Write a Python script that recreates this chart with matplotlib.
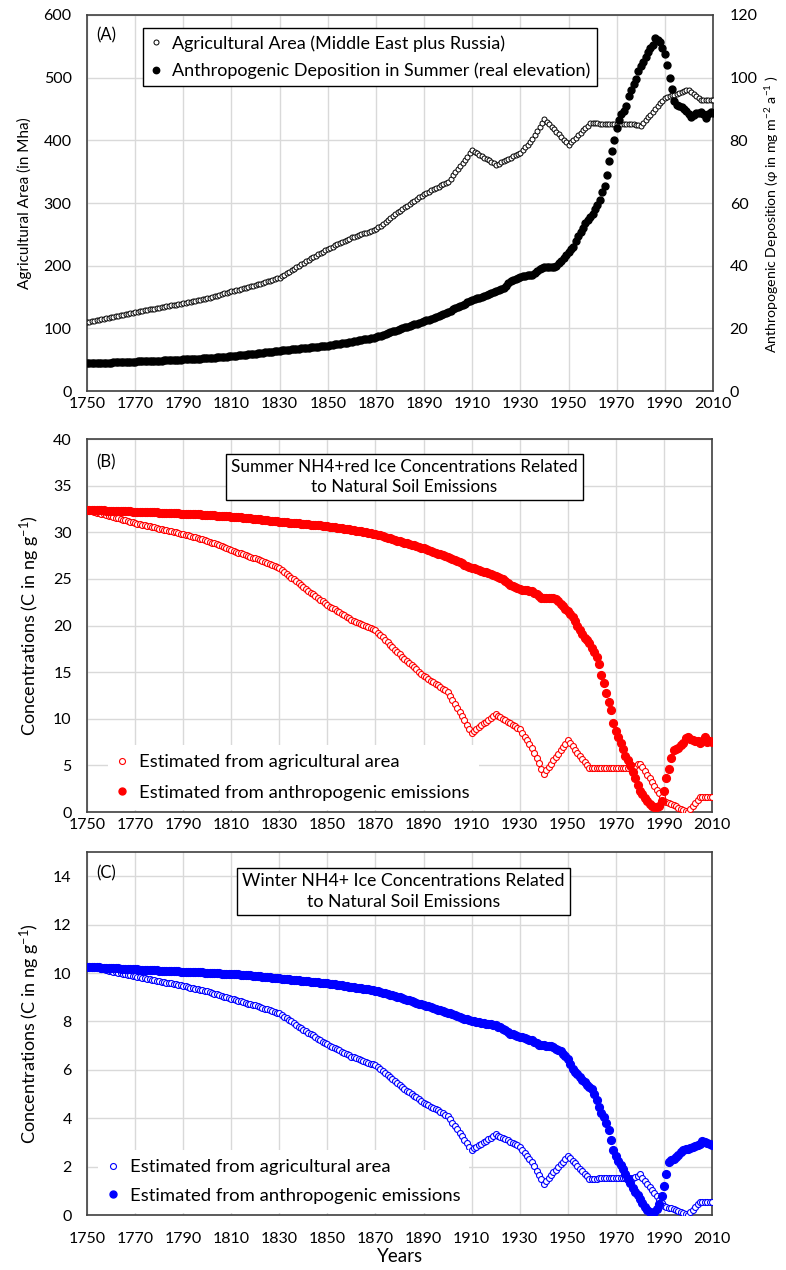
import matplotlib
matplotlib.use("Agg")
import matplotlib.pyplot as plt
from matplotlib.lines import Line2D

plt.rcParams['font.family'] = ['Lato', 'DejaVu Sans']
plt.rcParams['mathtext.fontset'] = 'custom'
plt.rcParams['mathtext.rm'] = 'Lato'
plt.rcParams['mathtext.it'] = 'Lato:italic'
plt.rcParams['mathtext.bf'] = 'Lato:bold'

years = list(range(1750, 2011))

# Panel A: agricultural area (Mha), Middle East plus Russia
area = [
    110, 110.8, 111.6, 112.4, 113.2, 114, 114.8, 115.6, 116.4, 117.2,
    118, 118.8, 119.6, 120.4, 121.2, 122, 122.8, 123.6, 124.4, 125.2,
    126, 126.7, 127.4, 128.1, 128.8, 129.5, 130.2, 130.9, 131.6, 132.3,
    133, 133.7, 134.4, 135.1, 135.8, 136.5, 137.2, 137.9, 138.6, 139.3,
    140, 140.8, 141.6, 142.4, 143.2, 144, 144.8, 145.6, 146.4, 147.2,
    148, 149.1, 150.2, 151.3, 152.4, 153.5, 154.6, 155.7, 156.8, 157.9,
    159, 160, 161, 162, 163, 164, 165, 166, 167, 168,
    169, 170.2, 171.4, 172.6, 173.8, 175, 176.2, 177.4, 178.6, 179.8,
    181, 183.4, 185.8, 188.2, 190.6, 193, 195.4, 197.8, 200.2, 202.6,
    205, 207.2, 209.4, 211.6, 213.8, 216, 218.2, 220.4, 222.6, 224.8,
    227, 228.8, 230.6, 232.4, 234.2, 236, 237.8, 239.6, 241.4, 243.2,
    245, 246.3, 247.6, 248.9, 250.2, 251.5, 252.8, 254.1, 255.4, 256.7,
    258, 261, 264, 267, 270, 273, 276, 279, 282, 285,
    288, 290.6, 293.2, 295.8, 298.4, 301, 303.6, 306.2, 308.8, 311.4,
    314, 316, 318, 320, 322, 324, 326, 328, 330, 332,
    334, 339, 344, 349, 354, 359, 364, 369, 374, 379,
    384, 381.7, 379.4, 377.1, 374.8, 372.5, 370.2, 367.9, 365.6, 363.3,
    361, 362.9, 364.8, 366.7, 368.6, 370.5, 372.4, 374.3, 376.2, 378.1,
    380, 384.4, 388.8, 393.2, 397.6, 402, 408.4, 414.8, 421.2, 427.6,
    434, 429.9, 425.8, 421.7, 417.6, 413.5, 409.4, 405.3, 401.2, 397.1,
    393, 396.8, 400.6, 404.3, 408.1, 411.9, 415.7, 419.4, 423.2, 427,
    427, 427, 426.9, 426.8, 426.8, 426.7, 426.6, 426.6, 426.5, 426.4,
    426.4, 426.3, 426.3, 426.2, 426.1, 426.1, 426, 426, 425, 424,
    423, 427.5, 432, 436.5, 441, 445.5, 450, 454.5, 459, 463.5,
    468, 469.2, 470.4, 471.6, 472.8, 474, 475.4, 476.8, 478.2, 479.6,
    481, 477.6, 474.2, 470.8, 467.4, 464, 464, 464, 464, 464,
    464,
]

# Panel A: anthropogenic deposition in summer (mg m-2 a-1)
deposition = [
    8.8, 8.83, 8.86, 8.89, 8.92, 8.95, 8.98, 9.01, 9.04, 9.07,
    9.1, 9.13, 9.16, 9.19, 9.22, 9.25, 9.28, 9.31, 9.34, 9.37,
    9.4, 9.43, 9.46, 9.49, 9.52, 9.55, 9.58, 9.61, 9.64, 9.67,
    9.7, 9.74, 9.78, 9.82, 9.86, 9.9, 9.94, 9.98, 10.02, 10.06,
    10.1, 10.14, 10.18, 10.22, 10.26, 10.3, 10.34, 10.38, 10.42, 10.46,
    10.5, 10.56, 10.62, 10.68, 10.74, 10.8, 10.86, 10.92, 10.98, 11.04,
    11.1, 11.18, 11.26, 11.34, 11.42, 11.5, 11.58, 11.66, 11.74, 11.82,
    11.9, 12.0, 12.1, 12.2, 12.3, 12.4, 12.5, 12.6, 12.7, 12.8,
    12.9, 12.98, 13.06, 13.14, 13.22, 13.3, 13.38, 13.46, 13.54, 13.62,
    13.7, 13.78, 13.86, 13.94, 14.02, 14.1, 14.18, 14.26, 14.34, 14.42,
    14.5, 14.62, 14.74, 14.86, 14.98, 15.1, 15.22, 15.34, 15.46, 15.58,
    15.7, 15.85, 16.0, 16.15, 16.3, 16.45, 16.6, 16.75, 16.9, 17.05,
    17.2, 17.46, 17.72, 17.98, 18.24, 18.5, 18.76, 19.02, 19.28, 19.54,
    19.8, 20.04, 20.28, 20.52, 20.76, 21.0, 21.24, 21.48, 21.72, 21.96,
    22.2, 22.51, 22.82, 23.13, 23.44, 23.75, 24.06, 24.37, 24.68, 24.99,
    25.3, 25.67, 26.04, 26.41, 26.78, 27.15, 27.52, 27.89, 28.26, 28.63,
    29.0, 29.28, 29.56, 29.84, 30.12, 30.4, 30.68, 30.96, 31.24, 31.52,
    31.8, 32.17, 32.53, 32.9, 33.67, 34.43, 35.2, 35.5, 35.8, 36.1,
    36.4, 36.7, 36.8, 36.9, 37.0, 37.1, 37.68, 38.25, 38.83, 39.4,
    39.47, 39.53, 39.6, 39.67, 39.73, 39.8, 40.7, 41.6, 42.5, 43.4,
    44.3, 45.2, 46.1, 47.8, 49.5, 50.83, 52.17, 53.5, 54.5, 55.5,
    56.5, 58, 59.5, 61, 63.5, 65.5, 69, 73.5, 76.5, 80,
    84, 86.5, 88.5, 89.5, 90.8, 94, 96, 98, 99.6, 102,
    103.8, 105, 106.5, 108.3, 109.5, 110.4, 112.8, 112, 111.3, 109.5,
    107.5, 104, 100, 96.5, 92.5, 91.2, 91, 90.5, 90, 89.4,
    88.5, 87.6, 88, 88.6, 88.8, 89.2, 88.5, 87, 88.5, 89,
    88.6,
]

# Panel B: summer concentrations (ng g-1)
summer_from_area = [
    32.4, 32.33, 32.26, 32.19, 32.12, 32.05, 31.98, 31.91, 31.84, 31.77,
    31.7, 31.63, 31.56, 31.49, 31.42, 31.35, 31.28, 31.21, 31.14, 31.07,
    31.0, 30.94, 30.88, 30.82, 30.76, 30.7, 30.64, 30.58, 30.52, 30.46,
    30.4, 30.34, 30.28, 30.22, 30.16, 30.1, 30.04, 29.98, 29.92, 29.86,
    29.8, 29.73, 29.66, 29.59, 29.52, 29.45, 29.38, 29.31, 29.24, 29.17,
    29.1, 29.0, 28.9, 28.8, 28.7, 28.6, 28.5, 28.4, 28.3, 28.2,
    28.1, 28.01, 27.92, 27.83, 27.74, 27.65, 27.56, 27.47, 27.38, 27.29,
    27.2, 27.1, 27.0, 26.9, 26.8, 26.7, 26.6, 26.5, 26.4, 26.3,
    26.2, 25.99, 25.78, 25.57, 25.36, 25.15, 24.94, 24.73, 24.52, 24.31,
    24.1, 23.91, 23.72, 23.53, 23.34, 23.15, 22.96, 22.77, 22.58, 22.39,
    22.2, 22.04, 21.88, 21.72, 21.56, 21.4, 21.24, 21.08, 20.92, 20.76,
    20.6, 20.49, 20.38, 20.27, 20.16, 20.05, 19.94, 19.83, 19.72, 19.61,
    19.5, 19.24, 18.98, 18.72, 18.46, 18.2, 17.94, 17.68, 17.42, 17.16,
    16.9, 16.67, 16.44, 16.21, 15.98, 15.75, 15.52, 15.29, 15.06, 14.83,
    14.6, 14.43, 14.26, 14.09, 13.92, 13.75, 13.58, 13.41, 13.24, 13.07,
    12.9, 12.46, 12.02, 11.58, 11.14, 10.7, 10.26, 9.82, 9.38, 8.94,
    8.5, 8.7, 8.9, 9.1, 9.3, 9.5, 9.7, 9.9, 10.1, 10.3,
    10.5, 10.34, 10.18, 10.02, 9.86, 9.7, 9.54, 9.38, 9.22, 9.06,
    8.9, 8.5, 8.1, 7.7, 7.3, 6.9, 6.34, 5.78, 5.22, 4.66,
    4.1, 4.46, 4.82, 5.18, 5.54, 5.9, 6.26, 6.62, 6.98, 7.34,
    7.7, 7.37, 7.03, 6.7, 6.37, 6.03, 5.7, 5.37, 5.03, 4.7,
    4.7, 4.7, 4.71, 4.71, 4.72, 4.72, 4.73, 4.73, 4.74, 4.74,
    4.75, 4.75, 4.76, 4.76, 4.77, 4.77, 4.78, 4.8, 4.95, 5.1,
    5.2, 4.8, 4.4, 4.0, 3.6, 3.2, 2.8, 2.4, 2.0, 1.6,
    1.2, 1.08, 0.96, 0.84, 0.72, 0.6, 0.48, 0.36, 0.24, 0.12,
    0.0, 0.33, 0.66, 0.99, 1.32, 1.65, 1.65, 1.65, 1.65, 1.65,
    1.65,
]

summer_from_emis = [
    32.4, 32.39, 32.38, 32.37, 32.36, 32.36, 32.35, 32.34, 32.33, 32.32,
    32.31, 32.3, 32.29, 32.28, 32.27, 32.26, 32.25, 32.24, 32.23, 32.22,
    32.21, 32.2, 32.19, 32.18, 32.17, 32.17, 32.16, 32.15, 32.14, 32.13,
    32.12, 32.11, 32.1, 32.08, 32.07, 32.06, 32.05, 32.04, 32.02, 32.01,
    32.0, 31.99, 31.98, 31.96, 31.95, 31.94, 31.93, 31.92, 31.9, 31.89,
    31.88, 31.86, 31.84, 31.82, 31.8, 31.79, 31.77, 31.75, 31.73, 31.71,
    31.69, 31.67, 31.64, 31.62, 31.59, 31.57, 31.55, 31.52, 31.5, 31.47,
    31.45, 31.42, 31.39, 31.36, 31.33, 31.3, 31.26, 31.23, 31.2, 31.17,
    31.14, 31.12, 31.09, 31.07, 31.04, 31.02, 31.0, 30.97, 30.95, 30.92,
    30.9, 30.88, 30.85, 30.83, 30.8, 30.78, 30.75, 30.73, 30.7, 30.68,
    30.65, 30.61, 30.58, 30.54, 30.5, 30.47, 30.43, 30.39, 30.35, 30.32,
    30.28, 30.23, 30.19, 30.14, 30.1, 30.05, 30.0, 29.96, 29.91, 29.87,
    29.82, 29.74, 29.66, 29.58, 29.5, 29.43, 29.35, 29.27, 29.19, 29.11,
    29.03, 28.96, 28.88, 28.81, 28.73, 28.66, 28.59, 28.51, 28.44, 28.36,
    28.29, 28.2, 28.1, 28.01, 27.91, 27.82, 27.72, 27.63, 27.53, 27.44,
    27.34, 27.23, 27.11, 27.0, 26.88, 26.77, 26.66, 26.54, 26.43, 26.31,
    26.2, 26.12, 26.03, 25.95, 25.86, 25.78, 25.69, 25.61, 25.52, 25.44,
    25.35, 25.23, 25.12, 25.0, 24.77, 24.53, 24.3, 24.21, 24.12, 24.03,
    23.94, 23.85, 23.82, 23.79, 23.75, 23.72, 23.54, 23.36, 23.18, 23.0,
    22.98, 22.96, 22.94, 22.92, 22.9, 22.88, 22.61, 22.34, 22.07, 21.79,
    21.52, 21.24, 20.96, 20.44, 19.92, 19.51, 19.11, 18.7, 18.4, 18.1,
    17.6, 17.2, 16.6, 15.9, 14.7, 13.8, 12.8, 11.8, 10.9, 9.6,
    8.7, 8.0, 7.4, 6.8, 6.0, 5.6, 5.0, 4.3, 3.6, 2.9,
    2.3, 1.9, 1.5, 1.2, 0.9, 0.65, 0.55, 0.55, 0.65, 1.2,
    2.3, 3.7, 4.6, 5.8, 6.6, 6.8, 6.9, 7.2, 7.4, 7.9,
    8.0, 7.8, 7.7, 7.6, 7.6, 7.4, 7.6, 8.1, 7.5, 7.6,
    7.5,
]

# Panel C: winter concentrations (ng g-1)
winter_from_area = [
    10.3, 10.28, 10.26, 10.23, 10.21, 10.19, 10.17, 10.15, 10.12, 10.1,
    10.08, 10.06, 10.04, 10.01, 9.99, 9.97, 9.95, 9.93, 9.9, 9.88,
    9.86, 9.84, 9.82, 9.8, 9.78, 9.76, 9.74, 9.72, 9.7, 9.68,
    9.66, 9.64, 9.62, 9.6, 9.58, 9.57, 9.55, 9.53, 9.51, 9.49,
    9.47, 9.45, 9.42, 9.4, 9.38, 9.36, 9.33, 9.31, 9.29, 9.26,
    9.24, 9.21, 9.18, 9.15, 9.12, 9.09, 9.06, 9.03, 9.0, 8.97,
    8.94, 8.91, 8.88, 8.86, 8.83, 8.8, 8.77, 8.74, 8.72, 8.69,
    8.66, 8.63, 8.59, 8.56, 8.53, 8.5, 8.46, 8.43, 8.4, 8.36,
    8.33, 8.26, 8.2, 8.13, 8.06, 8.0, 7.93, 7.86, 7.79, 7.73,
    7.66, 7.6, 7.54, 7.48, 7.42, 7.36, 7.29, 7.23, 7.17, 7.11,
    7.05, 7.0, 6.95, 6.9, 6.85, 6.8, 6.75, 6.7, 6.65, 6.6,
    6.55, 6.51, 6.48, 6.44, 6.41, 6.37, 6.33, 6.3, 6.26, 6.23,
    6.19, 6.11, 6.02, 5.94, 5.86, 5.78, 5.69, 5.61, 5.53, 5.44,
    5.36, 5.29, 5.22, 5.14, 5.07, 5.0, 4.93, 4.86, 4.78, 4.71,
    4.64, 4.59, 4.53, 4.48, 4.42, 4.37, 4.32, 4.26, 4.21, 4.15,
    4.1, 3.96, 3.82, 3.68, 3.54, 3.4, 3.25, 3.11, 2.97, 2.83,
    2.69, 2.75, 2.82, 2.88, 2.95, 3.01, 3.07, 3.14, 3.2, 3.27,
    3.33, 3.28, 3.23, 3.18, 3.13, 3.08, 3.03, 2.98, 2.93, 2.88,
    2.83, 2.7, 2.57, 2.45, 2.32, 2.19, 2.01, 1.83, 1.66, 1.48,
    1.3, 1.41, 1.53, 1.64, 1.76, 1.87, 1.98, 2.1, 2.21, 2.33,
    2.44, 2.34, 2.23, 2.13, 2.02, 1.92, 1.81, 1.71, 1.6, 1.5,
    1.5, 1.5, 1.5, 1.51, 1.51, 1.51, 1.51, 1.51, 1.52, 1.52,
    1.52, 1.52, 1.52, 1.52, 1.53, 1.53, 1.53, 1.53, 1.58, 1.63,
    1.68, 1.55, 1.42, 1.29, 1.16, 1.03, 0.9, 0.77, 0.64, 0.51,
    0.38, 0.35, 0.31, 0.27, 0.23, 0.19, 0.15, 0.11, 0.08, 0.04,
    0.0, 0.11, 0.22, 0.33, 0.44, 0.55, 0.55, 0.55, 0.55, 0.55,
    0.55,
]

winter_from_emis = [
    10.26, 10.25, 10.25, 10.24, 10.24, 10.23, 10.22, 10.22, 10.21, 10.21,
    10.2, 10.2, 10.19, 10.19, 10.18, 10.18, 10.17, 10.17, 10.16, 10.16,
    10.15, 10.15, 10.14, 10.14, 10.13, 10.13, 10.12, 10.12, 10.11, 10.11,
    10.1, 10.1, 10.09, 10.09, 10.08, 10.08, 10.08, 10.07, 10.07, 10.06,
    10.06, 10.06, 10.05, 10.05, 10.04, 10.04, 10.04, 10.03, 10.03, 10.02,
    10.02, 10.01, 10.01, 10.0, 10.0, 9.99, 9.98, 9.98, 9.97, 9.97,
    9.96, 9.95, 9.94, 9.94, 9.93, 9.92, 9.91, 9.9, 9.9, 9.89,
    9.88, 9.87, 9.86, 9.85, 9.84, 9.83, 9.82, 9.81, 9.8, 9.79,
    9.78, 9.77, 9.76, 9.75, 9.74, 9.73, 9.72, 9.71, 9.7, 9.69,
    9.68, 9.67, 9.66, 9.65, 9.64, 9.63, 9.61, 9.6, 9.59, 9.58,
    9.57, 9.56, 9.54, 9.53, 9.51, 9.5, 9.49, 9.47, 9.46, 9.44,
    9.43, 9.41, 9.4, 9.38, 9.37, 9.35, 9.33, 9.32, 9.3, 9.29,
    9.27, 9.24, 9.22, 9.19, 9.16, 9.14, 9.11, 9.08, 9.05, 9.03,
    9.0, 8.97, 8.94, 8.9, 8.87, 8.84, 8.81, 8.78, 8.74, 8.71,
    8.68, 8.65, 8.62, 8.58, 8.55, 8.52, 8.49, 8.46, 8.42, 8.39,
    8.36, 8.33, 8.29, 8.26, 8.22, 8.19, 8.16, 8.12, 8.09, 8.05,
    8.02, 8.0, 7.98, 7.97, 7.95, 7.93, 7.91, 7.89, 7.88, 7.86,
    7.84, 7.79, 7.75, 7.7, 7.63, 7.57, 7.5, 7.47, 7.44, 7.4,
    7.37, 7.34, 7.31, 7.28, 7.25, 7.22, 7.15, 7.09, 7.02, 7.01,
    7.01, 7.0, 6.99, 6.98, 6.93, 6.87, 6.82, 6.77, 6.66, 6.56,
    6.45, 6.25, 6.05, 5.93, 5.82, 5.7, 5.59, 5.49, 5.38, 5.29,
    5.2, 5.0, 4.75, 4.45, 4.2, 4.05, 3.8, 3.5, 3.1, 2.7,
    2.45, 2.25, 2.05, 1.9, 1.7, 1.5, 1.33, 1.12, 0.95, 0.82,
    0.67, 0.5, 0.35, 0.22, 0.12, 0.05, 0.12, 0.25, 0.45, 0.8,
    1.2, 1.7, 2.2, 2.28, 2.33, 2.38, 2.48, 2.6, 2.68, 2.72,
    2.74, 2.78, 2.8, 2.84, 2.88, 2.95, 3.05, 3.02, 2.96, 2.95,
    2.9,
]

xticks = list(range(1750, 2011, 20))

GRID = '#d9d9d9'
SPINE = '#404040'
TICK_FS = 11.5

fig = plt.figure(figsize=(7.86, 12.7), dpi=100)


def style_axes(ax, ylim, yticks, xpad=4.5):
    ax.set_xlim(1750, 2010)
    ax.set_ylim(*ylim)
    ax.set_xticks(xticks)
    ax.set_yticks(yticks)
    ax.grid(True, color=GRID, linewidth=1.0)
    ax.set_axisbelow(True)
    ax.tick_params(length=0, labelsize=TICK_FS)
    ax.tick_params(axis='y', pad=11)
    ax.tick_params(axis='x', pad=xpad)
    for s in ax.spines.values():
        s.set_color(SPINE)
        s.set_linewidth(1.2)


# ---------------- Panel A ----------------
axA = fig.add_axes([0.1107, 0.6921, 0.7964, 0.2961])
style_axes(axA, (0, 600), list(range(0, 601, 100)))
axA.set_ylabel('Agricultural Area (in Mha)', fontsize=11, labelpad=8)
axA.plot(years, area, linestyle='none', marker='o', ms=3.6, mfc='white',
         mec='black', mew=0.7, zorder=3)
axA2 = axA.twinx()
axA2.set_ylim(0, 120)
axA2.set_yticks(list(range(0, 121, 20)))
axA2.tick_params(length=0, labelsize=TICK_FS, pad=12)
for s in axA2.spines.values():
    s.set_visible(False)
axA2.plot(years, deposition, linestyle='none', marker='o', ms=5.0,
          color='black', zorder=4)
axA2.set_ylabel(r'Anthropogenic Deposition (φ in mg m$^{-2}$ a$^{-1}$ )',
                fontsize=10.2)
axA2.yaxis.set_label_coords(1.080, 0.47)
axA.text(0.015, 0.947, '(A)', transform=axA.transAxes, fontsize=12,
         va='center', ha='left')
hA = [Line2D([], [], linestyle='none', marker='o', ms=3.6, mfc='white',
             mec='black', mew=0.7),
      Line2D([], [], linestyle='none', marker='o', ms=4.6, color='black')]
legA = axA2.legend(hA, ['Agricultural Area (Middle East plus Russia)',
                        'Anthropogenic Deposition in Summer (real elevation)'],
                   loc='upper left', bbox_to_anchor=(0.0895, 0.966),
                   fontsize=13, frameon=True, fancybox=False, edgecolor='black',
                   framealpha=1, handlelength=0.6, handletextpad=0.6,
                   borderpad=0.4, labelspacing=0.6, borderaxespad=0)
legA.get_frame().set_linewidth(1.0)

# ---------------- Panel B ----------------
axB = fig.add_axes([0.1107, 0.3606, 0.7952, 0.2937])
style_axes(axB, (0, 40), list(range(0, 41, 5)))
axB.set_ylabel(r'Concentrations (C in ng g$^{-1}$)', fontsize=13, labelpad=8)
axB.plot(years, summer_from_area, linestyle='none', marker='o', ms=4.3,
         mfc='white', mec='#ff0000', mew=0.8, zorder=3)
axB.plot(years, summer_from_emis, linestyle='none', marker='o', ms=5.6,
         color='#ff0000', zorder=4)
axB.text(0.015, 0.938, '(B)', transform=axB.transAxes, fontsize=12,
         va='center', ha='left')
axB.text(0.508, 0.898, 'Summer NH4+red Ice Concentrations Related\nto Natural Soil Emissions',
         transform=axB.transAxes, fontsize=12.3, ha='center', va='center',
         multialignment='center', linespacing=1.35,
         bbox=dict(boxstyle='square,pad=0.3', fc='white', ec='black', lw=1.0),
         zorder=6)
hB = [Line2D([], [], linestyle='none', marker='o', ms=4.3, mfc='white',
             mec='#ff0000', mew=0.8),
      Line2D([], [], linestyle='none', marker='o', ms=5.0, color='#ff0000')]
legB = axB.legend(hB, ['Estimated from agricultural area',
                       'Estimated from anthropogenic emissions'],
                  loc='lower left', bbox_to_anchor=(0.03, 0.0), fontsize=13.3,
                  frameon=True, fancybox=False, edgecolor='none', facecolor='white',
                  framealpha=1, handlelength=0.6, handletextpad=0.6,
                  borderpad=0.5, labelspacing=0.8, borderaxespad=0.1)

# ---------------- Panel C ----------------
axC = fig.add_axes([0.1107, 0.0433, 0.7952, 0.2858])
style_axes(axC, (0, 15), list(range(0, 15, 2)), xpad=12)
axC.set_ylabel(r'Concentrations (C in ng g$^{-1}$)', fontsize=13, labelpad=8)
axC.set_xlabel('Years', fontsize=13.5, labelpad=2)
axC.plot(years, winter_from_area, linestyle='none', marker='o', ms=4.3,
         mfc='white', mec='#0000ff', mew=0.8, zorder=3)
axC.plot(years, winter_from_emis, linestyle='none', marker='o', ms=5.6,
         color='#0000ff', zorder=4)
axC.text(0.015, 0.942, '(C)', transform=axC.transAxes, fontsize=12,
         va='center', ha='left')
axC.text(0.506, 0.891, 'Winter NH4+ Ice Concentrations Related\nto Natural Soil Emissions',
         transform=axC.transAxes, fontsize=12.8, ha='center', va='center',
         multialignment='center', linespacing=1.35,
         bbox=dict(boxstyle='square,pad=0.3', fc='white', ec='black', lw=1.0),
         zorder=6)
hC = [Line2D([], [], linestyle='none', marker='o', ms=4.3, mfc='white',
             mec='#0000ff', mew=0.8),
      Line2D([], [], linestyle='none', marker='o', ms=5.0, color='#0000ff')]
legC = axC.legend(hC, ['Estimated from agricultural area',
                       'Estimated from anthropogenic emissions'],
                  loc='lower left', bbox_to_anchor=(0.015, 0.0), fontsize=13.3,
                  frameon=True, fancybox=False, edgecolor='none', facecolor='white',
                  framealpha=1, handlelength=0.6, handletextpad=0.6,
                  borderpad=0.5, labelspacing=0.7, borderaxespad=0.1)

fig.savefig('out.png', dpi=100)
